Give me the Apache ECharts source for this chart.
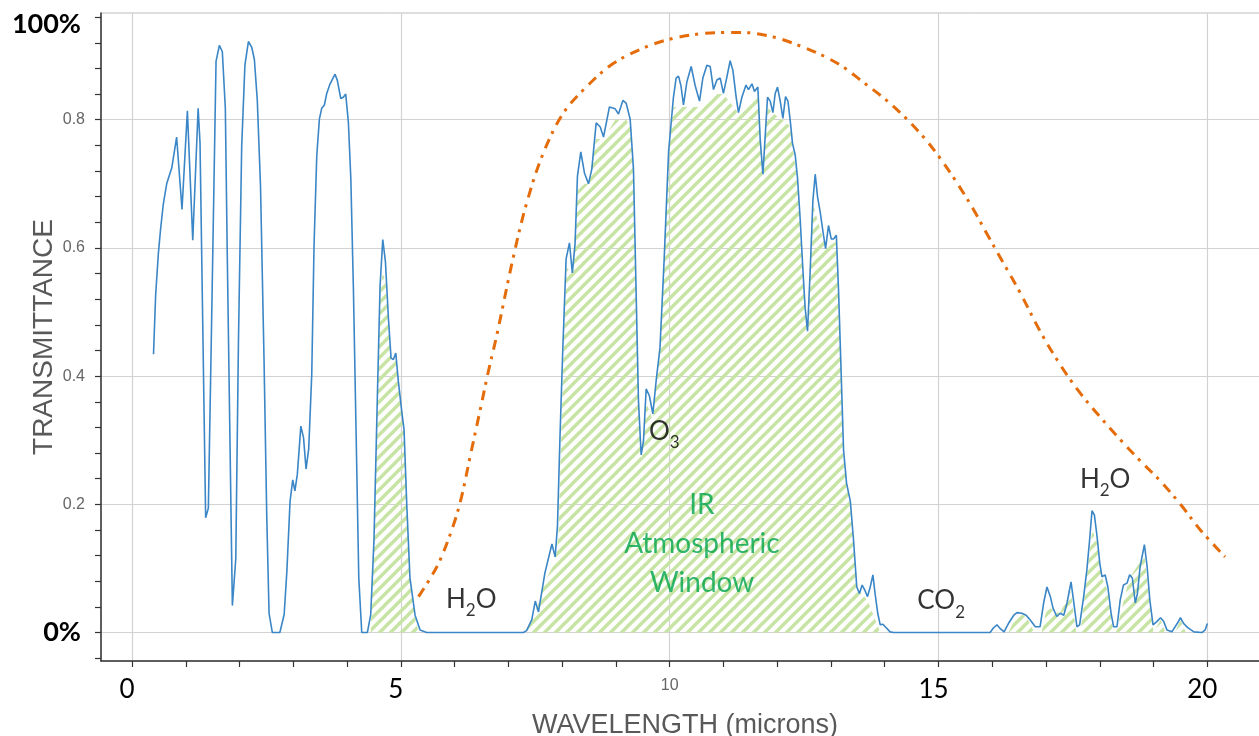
<!DOCTYPE html>
<html><head><meta charset="utf-8">
<script src="https://cdn.jsdelivr.net/npm/echarts@6/dist/echarts.min.js"></script>
<style>html,body{margin:0;padding:0;background:#fff}#c{width:1259px;height:736px}</style>
</head><body><div id="c"></div>
<script>
// ---- data ----
const waveX = [0.40,0.44,0.49,0.53,0.58,0.645,0.74,0.83,0.93,1.03,1.13,1.23,1.265,1.37,1.42,1.49,1.563,1.625,1.68,1.736,1.77,1.867,1.93,1.98,2.04,2.10,2.165,2.227,2.276,2.33,2.39,2.456,2.506,2.549,2.61,2.75,2.83,2.88,2.94,2.99,3.03,3.075,3.14,3.19,3.237,3.287,3.343,3.386,3.436,3.485,3.529,3.578,3.622,3.684,3.777,3.82,3.883,3.93,3.975,4.025,4.07,4.118,4.167,4.218,4.273,4.378,4.44,4.50,4.565,4.614,4.664,4.713,4.77,4.818,4.862,4.906,4.955,5.017,5.06,5.11,5.17,5.265,5.358,5.48,7.28,7.34,7.436,7.5,7.56,7.68,7.81,7.87,7.913,7.96,8.013,8.074,8.136,8.19,8.24,8.285,8.347,8.415,8.49,8.552,8.633,8.707,8.77,8.88,8.986,9.048,9.13,9.19,9.265,9.327,9.377,9.42,9.47,9.513,9.563,9.624,9.687,9.75,9.82,9.898,9.98,10.07,10.12,10.165,10.21,10.257,10.32,10.4,10.475,10.555,10.617,10.692,10.754,10.815,10.878,10.94,11.0,11.06,11.125,11.176,11.237,11.28,11.343,11.42,11.467,11.53,11.578,11.64,11.684,11.734,11.777,11.82,11.87,11.92,11.963,12.006,12.056,12.106,12.155,12.2,12.242,12.285,12.335,12.378,12.428,12.478,12.52,12.564,12.614,12.664,12.707,12.75,12.8,12.85,12.9,12.954,13.005,13.048,13.1,13.14,13.185,13.234,13.29,13.36,13.42,13.48,13.53,13.58,13.63,13.68,13.73,13.78,13.82,13.87,13.916,13.966,14.01,14.1,14.165,15.96,16.02,16.087,16.15,16.22,16.30,16.40,16.46,16.55,16.63,16.71,16.80,16.89,16.955,17.017,17.08,17.13,17.20,17.265,17.33,17.39,17.465,17.51,17.575,17.625,17.70,17.76,17.81,17.855,17.90,17.95,18.0,18.04,18.10,18.15,18.21,18.257,18.32,18.38,18.44,18.506,18.555,18.605,18.66,18.70,18.75,18.83,18.88,18.93,18.99,19.06,19.13,19.19,19.25,19.34,19.44,19.50,19.56,19.63,19.75,19.90,19.96,20.0];
const transY = [0.434,0.527,0.591,0.628,0.667,0.700,0.725,0.773,0.660,0.814,0.612,0.818,0.764,0.179,0.194,0.53,0.891,0.916,0.906,0.818,0.600,0.042,0.115,0.455,0.758,0.885,0.922,0.913,0.894,0.831,0.697,0.424,0.182,0.030,0.0,0.0,0.028,0.095,0.205,0.238,0.221,0.247,0.322,0.304,0.255,0.287,0.402,0.605,0.743,0.801,0.818,0.823,0.841,0.856,0.871,0.861,0.833,0.835,0.840,0.795,0.708,0.536,0.316,0.085,0.0,0.0,0.028,0.143,0.373,0.541,0.613,0.579,0.489,0.428,0.426,0.436,0.391,0.345,0.316,0.2,0.085,0.027,0.004,0.0,0.0,0.003,0.02,0.049,0.032,0.093,0.138,0.118,0.166,0.305,0.444,0.583,0.608,0.561,0.606,0.712,0.750,0.717,0.700,0.723,0.795,0.789,0.773,0.820,0.817,0.809,0.830,0.826,0.801,0.723,0.528,0.361,0.277,0.299,0.38,0.369,0.341,0.394,0.444,0.583,0.75,0.835,0.865,0.868,0.853,0.823,0.859,0.883,0.853,0.829,0.865,0.885,0.883,0.847,0.862,0.865,0.841,0.865,0.892,0.877,0.835,0.811,0.835,0.854,0.847,0.856,0.844,0.851,0.769,0.715,0.775,0.835,0.829,0.811,0.841,0.851,0.829,0.802,0.836,0.829,0.799,0.763,0.745,0.709,0.644,0.566,0.506,0.470,0.566,0.674,0.715,0.680,0.656,0.626,0.599,0.635,0.614,0.614,0.620,0.536,0.417,0.285,0.233,0.205,0.144,0.071,0.061,0.074,0.066,0.056,0.071,0.090,0.061,0.030,0.012,0.013,0.009,0.001,0.0,0.0,0.007,0.012,0.006,0.001,0.014,0.027,0.031,0.030,0.027,0.019,0.009,0.009,0.046,0.071,0.056,0.038,0.025,0.030,0.027,0.046,0.079,0.051,0.009,0.012,0.056,0.098,0.144,0.190,0.183,0.149,0.108,0.087,0.090,0.071,0.030,0.009,0.009,0.051,0.074,0.077,0.090,0.085,0.046,0.061,0.103,0.137,0.103,0.051,0.012,0.017,0.023,0.017,0.004,0.001,0.014,0.023,0.014,0.008,0.001,0.0,0.004,0.014];

const blackbodyX = [5.33,5.55,5.73,5.98,6.13,6.29,6.47,6.63,6.785,7.09,7.34,7.65,8.02,8.46,8.955,9.575,10.07,10.57,11.0,11.37,11.93,12.43,12.92,13.27,13.545,13.95,14.35,14.72,15.03,15.34,15.65,15.90,16.21,16.52,16.89,17.27,17.64,18.01,18.38,18.75,19.13,19.50,19.87,20.33];
const blackbodyY = [0.056,0.085,0.113,0.168,0.212,0.275,0.345,0.408,0.464,0.585,0.670,0.748,0.810,0.852,0.888,0.914,0.927,0.934,0.936,0.936,0.929,0.915,0.897,0.880,0.862,0.836,0.806,0.773,0.740,0.702,0.660,0.622,0.576,0.530,0.470,0.417,0.373,0.336,0.301,0.268,0.236,0.200,0.160,0.118];

// hatched "window" regions (outline of the shaded areas)
const hatchNear5 = [[4.44,0],[4.50,0.14],[4.565,0.37],[4.62,0.53],[4.66,0.56],[4.713,0.55],[4.77,0.48],[4.818,0.428],[4.862,0.426],[4.906,0.43],[4.955,0.39],[5.017,0.345],[5.06,0.316],[5.11,0.2],[5.17,0.085],[5.265,0.025],[5.33,0]];
const hatchWindow = [[7.30,0],[7.5,0.03],[7.68,0.08],[7.87,0.11],[7.93,0.15],[7.98,0.3],[8.03,0.45],[8.08,0.57],[8.19,0.56],[8.29,0.69],[8.42,0.70],[8.49,0.70],[8.63,0.77],[8.77,0.77],[8.99,0.80],[9.19,0.80],[9.27,0.79],[9.33,0.72],[9.38,0.53],[9.42,0.36],[9.47,0.27],[9.51,0.29],[9.56,0.36],[9.69,0.33],[9.75,0.39],[9.82,0.44],[9.9,0.58],[9.98,0.75],[10.07,0.82],[10.26,0.82],[10.55,0.82],[10.8,0.84],[11.0,0.84],[11.28,0.81],[11.65,0.84],[11.73,0.71],[11.82,0.82],[11.92,0.81],[12.1,0.80],[12.24,0.79],[12.38,0.70],[12.52,0.50],[12.56,0.47],[12.66,0.67],[12.9,0.60],[13.1,0.61],[13.18,0.42],[13.23,0.27],[13.34,0.21],[13.42,0.14],[13.48,0.07],[13.68,0.05],[13.92,0]];
const hatchFarIR = [[16.30,0],[16.46,0.028],[16.63,0.026],[16.78,0],[16.92,0],[17.02,0.04],[17.26,0.03],[17.46,0.065],[17.56,0],[17.64,0],[17.86,0.16],[17.95,0.14],[18.04,0.085],[18.15,0.065],[18.25,0],[18.30,0],[18.55,0.085],[18.83,0.12],[18.95,0.03],[19.0,0],[19.02,0],[19.13,0.02],[19.22,0],[19.40,0],[19.50,0.02],[19.6,0]];

const xTickValues = [0,1,2,3,4,5,6,7,8,9,10,11,12,13,14,15,16,17,18,19,20];
const xLabelValues = [0,5,10,15,20];
const xLabelTexts = ['0','5','10','15','20'];
const yTickValues = [-0.04,0,0.04,0.08,0.12,0.16,0.2,0.24,0.28,0.32,0.36,0.4,0.44,0.48,0.52,0.56,0.6,0.64,0.68,0.72,0.76,0.8,0.84,0.88,0.92,0.96];
const yLabelValues = [0,0.2,0.4,0.6,0.8,0.96];
const yLabelTexts = ['0%','0.2','0.4','0.6','0.8','100%'];
const gridX = [0,5,10,15,20];
const gridY = [0,0.2,0.4,0.6,0.8];

const annotationTexts = ['{n|H}{s|2}{n|O}','{n|O}{s|3}','{n|CO}{s|2}','{n|H}{s|2}{n|O}','{g|IR}\n{g|Atmospheric}\n{g|Window}'];
const annotationX = [6.31, 9.9, 15.05, 18.1, 10.6];
const annotationY = [0.051, 0.314, 0.049, 0.239, 0.138];

// ---- chart ----
const zip = (a, b) => a.map((v, i) => [v, b[i]]);
function hatchPattern() {
  const s = 11;
  const c = document.createElement('canvas'); c.width = s; c.height = s;
  const g = c.getContext('2d');
  g.strokeStyle = '#c8e4a4'; g.lineWidth = 3.4; g.lineCap = 'square';
  g.beginPath();
  g.moveTo(-s/2, s/2); g.lineTo(s/2, -s/2);
  g.moveTo(0, s); g.lineTo(s, 0);
  g.moveTo(s/2, s*1.5); g.lineTo(s*1.5, s/2);
  g.stroke();
  return c;
}
const pat = hatchPattern();
const X_MIN = -0.5766, X_MAX = 21.147, Y_MIN = -0.04446, Y_MAX = 0.9665;

function hatchSeries(d) {
  return { type: 'line', data: d, symbol: 'none', silent: true, z: 1,
    lineStyle: { width: 0, opacity: 0 },
    areaStyle: { color: { image: pat, repeat: 'repeat' }, opacity: 1 } };
}

const chart = echarts.init(document.getElementById('c'), null, { renderer: 'canvas' });
chart.setOption({
  animation: false,
  backgroundColor: '#fff',
  grid: { left: 101, top: 13, right: -10, bottom: 75, containLabel: false, outerBoundsMode: 'none',
    show: true, borderColor: '#bdbdbd', borderWidth: 1, backgroundColor: 'transparent' },
  xAxis: [{
    type: 'value', min: X_MIN, max: X_MAX, position: 'bottom',
    axisLine: { show: true, onZero: false, lineStyle: { color: '#333', width: 1.5 } },
    axisTick: { show: true, customValues: xTickValues, length: 6, lineStyle: { color: '#333', width: 1.2 } },
    splitLine: { show: false },
    axisLabel: {
      customValues: xLabelValues, margin: 16,
      formatter: v => { const t = xLabelTexts[xLabelValues.indexOf(v)]; return v === 10 ? '{sm|' + t + '}' : '{bg|' + t + '}'; },
      rich: {
        bg: { fontSize: 26, fontFamily: 'Lato', color: '#000', lineHeight: 26, padding: [0, 10, 0, 0] },
        sm: { fontSize: 16, fontFamily: 'Liberation Sans', color: '#666', lineHeight: 18 }
      }
    },
    name: 'WAVELENGTH (microns)', nameLocation: 'middle', nameGap: 51, nameMoveOverlap: false,
    nameTextStyle: { fontSize: 27, fontFamily: 'Liberation Sans', color: '#595959' }
  }, {
    type: 'value', min: X_MIN, max: X_MAX, position: 'bottom',
    axisLine: { show: false }, axisLabel: { show: false },
    axisTick: { show: false, customValues: gridX },
    splitLine: { show: true, lineStyle: { color: '#d2d2d2', width: 1.2 } }
  }],
  yAxis: [{
    type: 'value', min: Y_MIN, max: Y_MAX,
    axisLine: { show: true, onZero: false, lineStyle: { color: '#333', width: 1.5 } },
    axisTick: { show: true, customValues: yTickValues, length: 6, lineStyle: { color: '#333', width: 1.2 } },
    splitLine: { show: false },
    axisLabel: {
      customValues: yLabelValues, margin: 16,
      formatter: v => { const i = yLabelValues.findIndex(u => Math.abs(u - v) < 1e-9); const t = yLabelTexts[i]; return i === 0 ? '{bg|' + t + '}' : (i === 5 ? '{tp|' + t + '}' : '{sm|' + t + '}'); },
      rich: {
        bg: { fontSize: 27, fontWeight: 'bold', fontFamily: 'Lato', color: '#000', padding: [0, 4, 0, 0] },
        tp: { fontSize: 27, fontWeight: 'bold', fontFamily: 'Lato', color: '#000', padding: [14, 4, 0, 0] },
        sm: { fontSize: 16, fontFamily: 'Liberation Sans', color: '#666' }
      }
    },
    name: 'TRANSMITTANCE', nameLocation: 'middle', nameGap: 43, nameRotate: 90, nameMoveOverlap: false,
    nameTextStyle: { fontSize: 28, fontFamily: 'Liberation Sans', color: '#595959' }
  }, {
    type: 'value', min: Y_MIN, max: Y_MAX,
    axisLine: { show: false }, axisLabel: { show: false },
    axisTick: { show: false, customValues: gridY },
    splitLine: { show: true, lineStyle: { color: '#d2d2d2', width: 1.2 } }
  }],
  series: [
    hatchSeries(hatchNear5),
    hatchSeries(hatchWindow),
    hatchSeries(hatchFarIR),
    { type: 'line', data: zip(waveX, transY), symbol: 'none', z: 3, silent: true,
      lineStyle: { color: '#3a86c6', width: 1.6 } },
    { type: 'line', data: zip(blackbodyX, blackbodyY), symbol: 'none', smooth: 0.35, z: 4, silent: true,
      lineStyle: { color: '#e46c0a', width: 3, type: [10, 6, 3, 7], cap: 'butt' } },
    { type: 'scatter', data: zip(annotationX, annotationY), symbolSize: 1, z: 6, silent: true,
      itemStyle: { color: 'rgba(0,0,0,0)' },
      label: { show: true, position: 'inside', textBorderWidth: 0, textBorderColor: 'transparent',
        formatter: p => annotationTexts[p.dataIndex],
        rich: {
          n: { fontSize: 26, fontFamily: 'Lato', color: '#000', textBorderWidth: 0 },
          s: { fontSize: 17, fontFamily: 'Lato', color: '#000', height: 17, padding: [22, 0, 0, 0], textBorderWidth: 0 },
          g: { fontSize: 28, fontFamily: 'Lato', color: '#00a448', lineHeight: 39, align: 'center', textBorderWidth: 0 }
        } } }
  ]
});
</script></body></html>
